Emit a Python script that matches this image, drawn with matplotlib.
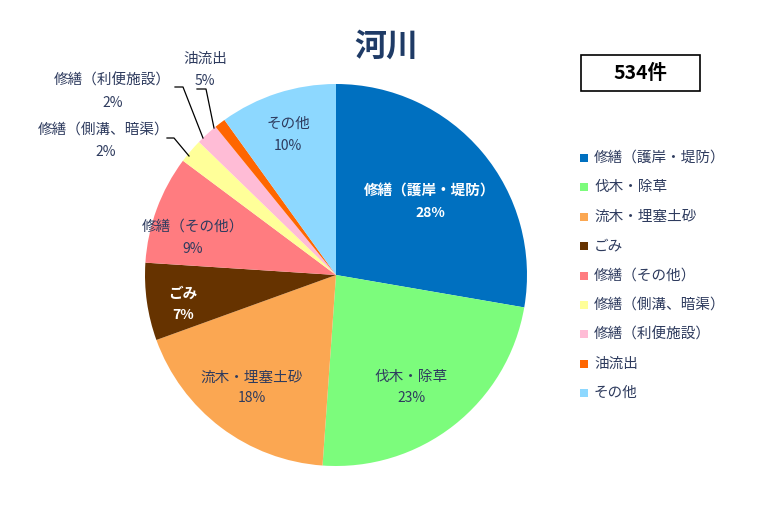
import matplotlib
matplotlib.use("Agg")
import matplotlib.pyplot as plt
from matplotlib.patches import Rectangle

plt.rcParams['font.family'] = ['Noto Sans CJK JP', 'DejaVu Sans']

categories = ['修繕（護岸・堤防）', '伐木・除草', '流木・埋塞土砂', 'ごみ', '修繕（その他）',
              '修繕（側溝、暗渠）', '修繕（利便施設）', '油流出', 'その他']
counts = [148, 125, 98, 35, 49, 11, 10, 5, 53]
pct_labels = ['28%', '23%', '18%', '7%', '9%', '2%', '2%', '5%', '10%']
colors = ['#0070C0', '#7CFC7C', '#FBA752', '#663300', '#FF7C80',
          '#FFFF99', '#FFBCD6', '#FF6600', '#8DD8FF']
title = '河川'
total_label = '534件'

W, H = 774, 509
CX, CY, R = 336, 275, 191
TXT = '#2E3B5E'

fig = plt.figure(figsize=(W / 100, H / 100), dpi=100)
ax = fig.add_axes([(CX - R) / W, (H - CY - R) / H, 2 * R / W, 2 * R / H])
ax.pie(counts, colors=colors, startangle=90, counterclock=False, radius=1,
       wedgeprops=dict(linewidth=0))
ax.set_xlim(-1, 1)
ax.set_ylim(-1, 1)
ax.set_aspect('equal')
ax.axis('off')


def d(px, py):
    return (px - CX) / R, (CY - py) / R


# label positions in pixels (name line, percent line), colour, bold
label_pos = [
    ((430, 191), (430, 213), 'white', True),
    ((411, 377), (411, 398), TXT, False),
    ((252, 378), (252, 398), TXT, False),
    ((183, 293), (183, 315), 'white', True),
    ((193, 227), (193, 249), TXT, False),
    ((104, 130), (106, 152), TXT, False),
    ((112, 81), (113, 103), TXT, False),
    ((205, 59), (205, 81), TXT, False),
    ((288, 124), (288, 146), TXT, False),
]
for cat, pct, (p1, p2, col, bold) in zip(categories, pct_labels, label_pos):
    w = 'bold' if bold else 'normal'
    ax.text(*d(*p1), cat, ha='center', va='center', color=col, fontsize=10.5,
            fontweight=w, clip_on=False)
    ax.text(*d(*p2), pct, ha='center', va='center', color=col, fontsize=10,
            fontweight=w, clip_on=False)

# leader lines
leaders = [
    [(167, 138), (174, 138), (189, 156)],
    [(175, 87), (183, 87), (203, 138)],
    [(197, 89), (206, 89), (214, 128)],
]
for pts in leaders:
    xs, ys = zip(*[d(*p) for p in pts])
    ax.plot(xs, ys, color='black', lw=0.9, clip_on=False)

fig.text(386 / W, 1 - 47 / H, title, ha='center', va='center', fontsize=23,
         fontweight='bold', color='#1F3B66')

fig.patches.append(Rectangle((581 / W, 1 - 91 / H), 119 / W, 36 / H,
                             transform=fig.transFigure, fill=False,
                             edgecolor='black', lw=1.2))
fig.text(640 / W, 1 - 73 / H, total_label, ha='center', va='center',
         fontsize=14, fontweight='bold', color='black')

# legend drawn manually
for i, (cat, col) in enumerate(zip(categories, colors)):
    y = 158 + i * 29.4
    fig.patches.append(Rectangle((580 / W, 1 - (y + 4) / H), 8 / W, 8 / H,
                                 transform=fig.transFigure, color=col, lw=0))
    fig.text(594 / W, 1 - y / H, cat, ha='left', va='center', fontsize=10.5,
             color=TXT)

fig.savefig('out.png', dpi=100)
